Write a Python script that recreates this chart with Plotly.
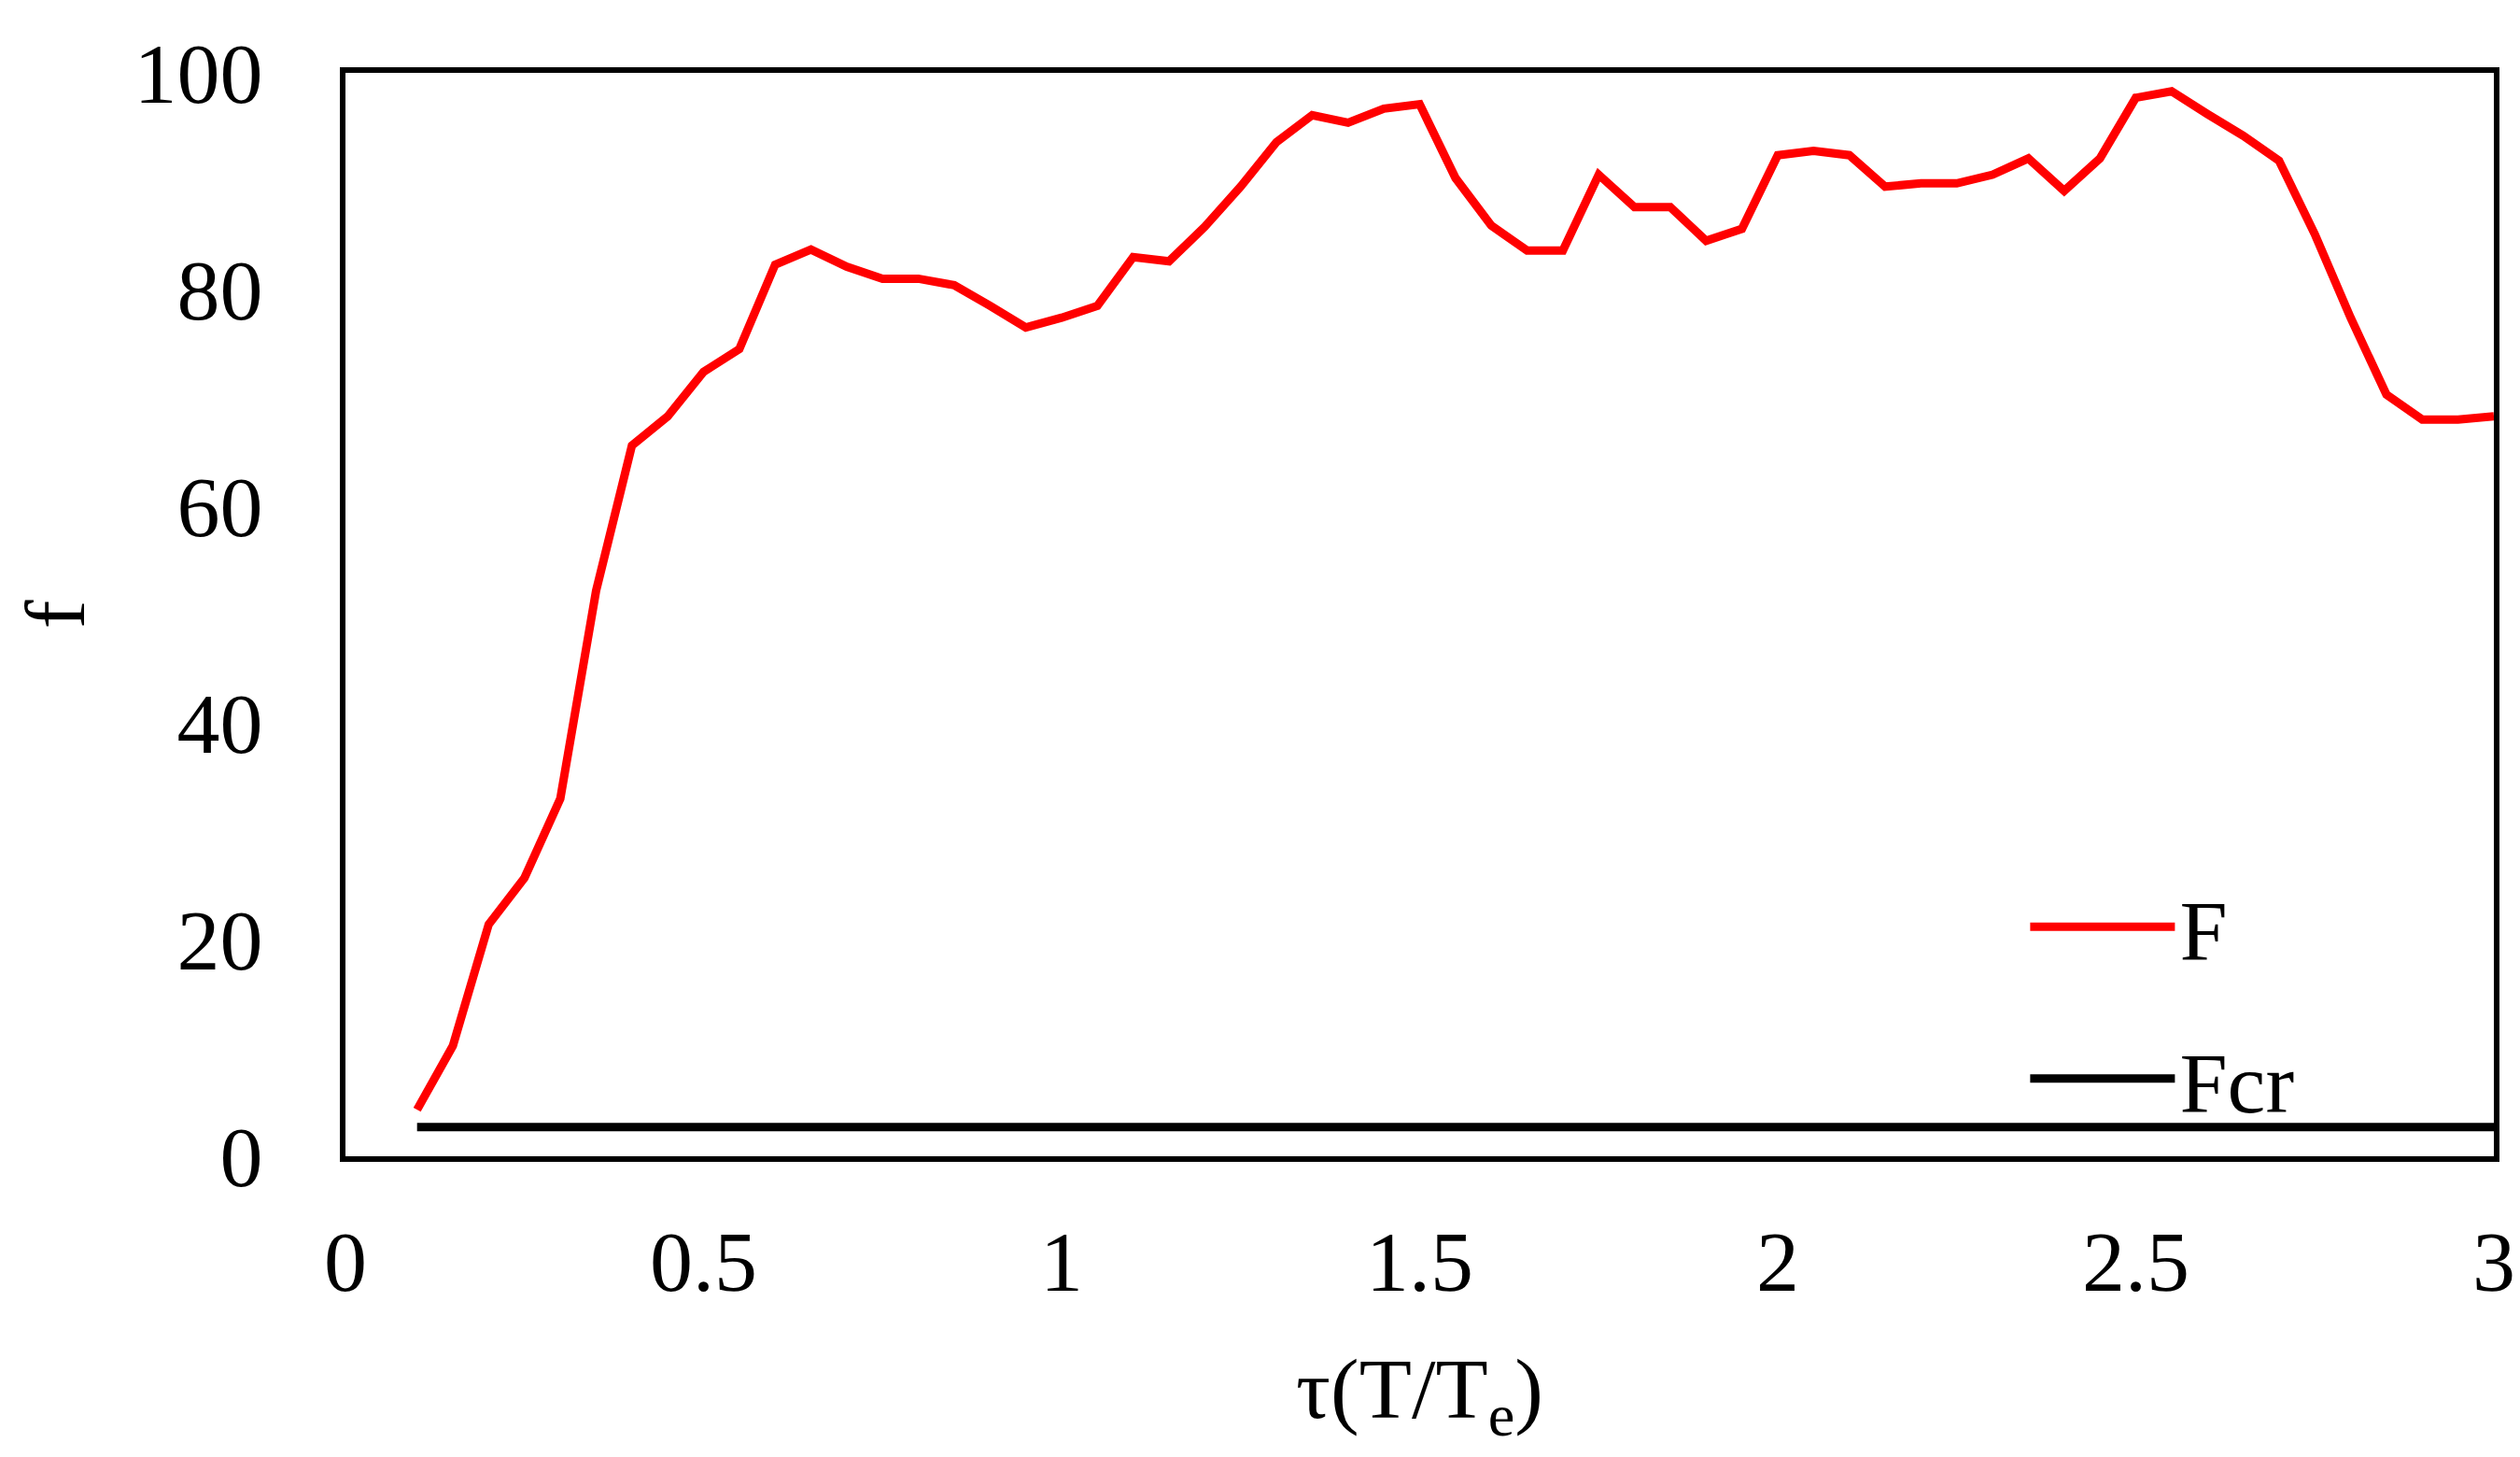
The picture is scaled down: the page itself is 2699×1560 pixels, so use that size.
import plotly.graph_objects as go

# ---- data ----
tau = [0.1, 0.15, 0.2, 0.25, 0.3, 0.35, 0.4, 0.45, 0.5, 0.55,
       0.6, 0.65, 0.7, 0.75, 0.8, 0.85, 0.9, 0.95, 1.0, 1.05,
       1.1, 1.15, 1.2, 1.25, 1.3, 1.35, 1.4, 1.45, 1.5, 1.55,
       1.6, 1.65, 1.7, 1.75, 1.8, 1.85, 1.9, 1.95, 2.0, 2.05,
       2.1, 2.15, 2.2, 2.25, 2.3, 2.35, 2.4, 2.45, 2.5, 2.55,
       2.6, 2.65, 2.7, 2.75, 2.8, 2.85, 2.9, 2.95, 3.0]

F = [4.3, 10.2, 21.4, 25.7, 33.0, 52.2, 65.6, 68.3, 72.4, 74.5,
     82.3, 83.7, 82.1, 81.0, 81.0, 80.4, 78.5, 76.5, 77.4, 78.5,
     83.0, 82.6, 85.8, 89.5, 93.6, 96.1, 95.4, 96.7, 97.1, 90.3,
     85.9, 83.6, 83.6, 90.6, 87.6, 87.6, 84.5, 85.6, 92.4, 92.8,
     92.4, 89.5, 89.8, 89.8, 90.6, 92.1, 89.1, 92.1, 97.7, 98.3,
     96.2, 94.2, 91.9, 85.1, 77.4, 70.3, 68.0, 68.0, 68.3]

Fcr = [2.7] * len(tau)

x_ticks = [0, 0.5, 1, 1.5, 2, 2.5, 3]
x_ticklabels = ["0", "0.5", "1", "1.5", "2", "2.5", "3"]
y_ticks = [0, 20, 40, 60, 80, 100]
y_ticklabels = ["0", "20", "40", "60", "80", "100"]

FONT = "Liberation Serif, Times New Roman, serif"
FS = 92

fig = go.Figure()
fig.add_trace(go.Scatter(x=tau, y=F, mode="lines", name="F",
                         legendgroup="a",
                         line=dict(color="#ff0000", width=9)))
fig.add_trace(go.Scatter(x=tau, y=Fcr, mode="lines", name="Fcr",
                         legendgroup="b",
                         line=dict(color="#000000", width=9)))

fig.update_layout(
    width=2699, height=1560,
    margin=dict(l=362, r=36, t=70, b=330, autoexpand=False),
    paper_bgcolor="white", plot_bgcolor="white",
    font=dict(family=FONT, size=FS, color="black"),
    showlegend=True,
    legend=dict(x=0.782, y=0.269, xanchor="left", yanchor="top",
                bgcolor="rgba(0,0,0,0)", borderwidth=0,
                font=dict(family=FONT, size=FS, color="black"),
                itemwidth=155, tracegroupgap=40, traceorder="grouped"),
)

fig.update_xaxes(
    range=[0, 3], tickvals=x_ticks, ticktext=x_ticklabels,
    showgrid=False, zeroline=False, ticks="",
    showline=True, linecolor="black", linewidth=6, mirror=True,
    ticklabelstandoff=28,
    tickfont=dict(family=FONT, size=FS, color="black"),
    title=dict(text="τ(T/T<sub>e</sub>)", standoff=54,
               font=dict(family=FONT, size=FS, color="black")),
    automargin=False,
)
fig.update_yaxes(
    range=[0, 100], tickvals=y_ticks, ticktext=y_ticklabels,
    showgrid=False, zeroline=False, ticks="",
    showline=True, linecolor="black", linewidth=6, mirror=True,
    ticklabelstandoff=64,
    tickfont=dict(family=FONT, size=FS, color="black"),
    title=dict(text="f", standoff=52,
               font=dict(family=FONT, size=FS, color="black")),
    automargin=False,
)

fig.write_html("out.html")
